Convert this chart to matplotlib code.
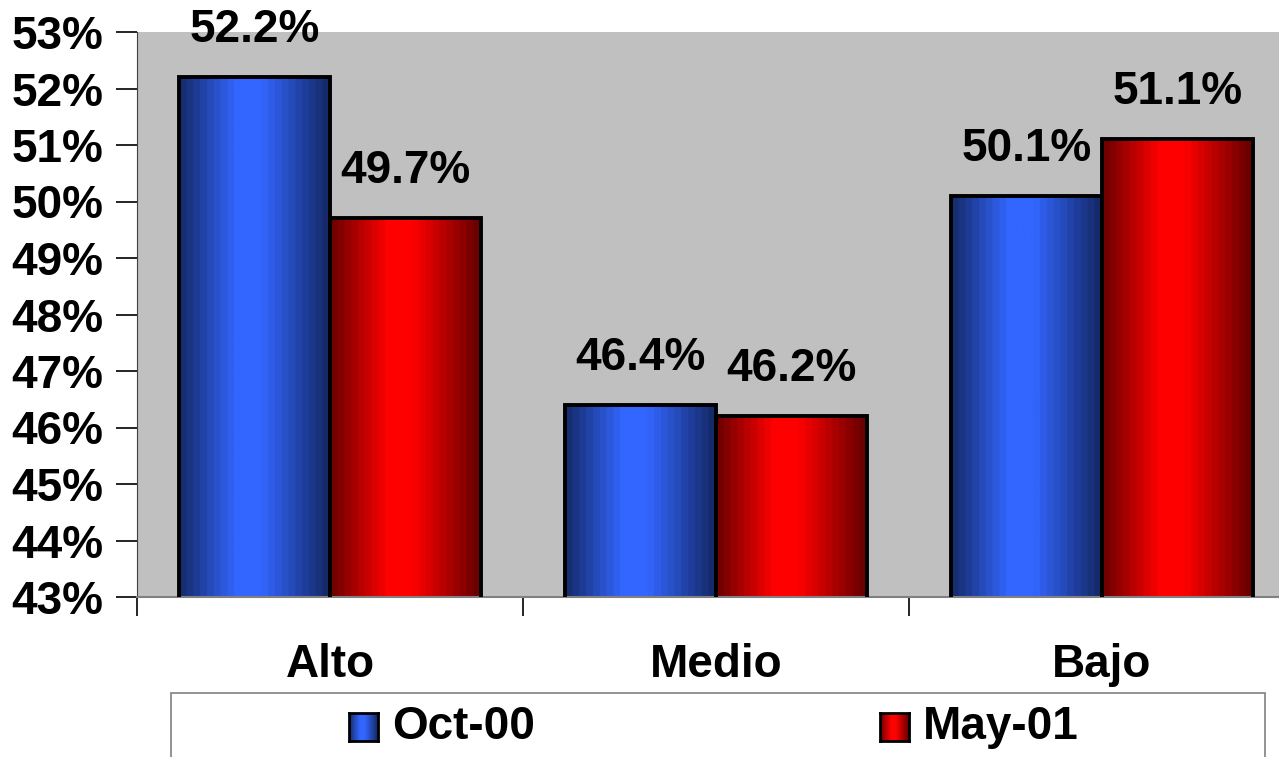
import matplotlib
matplotlib.use("Agg")
import matplotlib.pyplot as plt
import numpy as np
from matplotlib.colors import LinearSegmentedColormap
from matplotlib.patches import Rectangle

categories = ["Alto", "Medio", "Bajo"]
series = ["Oct-00", "May-01"]
oct00 = [52.2, 46.4, 50.1]
may01 = [49.7, 46.2, 51.1]
yticks = [43, 44, 45, 46, 47, 48, 49, 50, 51, 52, 53]

plt.rcParams['font.family'] = ['Liberation Sans', 'DejaVu Sans']
plt.rcParams['font.weight'] = 'bold'
FS = 33

def shade_cmap(base, n=22):
	# dark edges, bright band a bit left of centre
	t = np.linspace(0, 1, n)
	b = np.interp(t, [0, 0.38, 0.55, 1], [0.45, 1.0, 1.0, 0.42])
	cols = [tuple(np.array(base) * v) for v in b]
	return LinearSegmentedColormap.from_list("s", cols, N=n)

blue_cm = shade_cmap((0.2, 0.4, 1.0))
red_cm = shade_cmap((1.0, 0.0, 0.0))

fig = plt.figure(figsize=(12.79, 7.57), dpi=100)
ax = fig.add_axes([137/1279, 1-597/757, (1295-137)/1279, (597-32)/757])
ax.set_facecolor('#C0C0C0')

x = np.arange(len(categories)) + 0.5
w = 0.39
b1 = ax.bar(x - w/2, oct00, w, facecolor='none', edgecolor='black', linewidth=2.8, zorder=3)
b2 = ax.bar(x + w/2, may01, w, facecolor='none', edgecolor='black', linewidth=2.8, zorder=3)

grad = np.linspace(0, 1, 200).reshape(1, -1)
for bars, cm in [(b1, blue_cm), (b2, red_cm)]:
	for p in bars:
		x0 = p.get_x()
		ax.imshow(grad, cmap=cm, aspect='auto', extent=[x0, x0 + p.get_width(), 43, p.get_height()], zorder=2)

ax.bar_label(b1, labels=[f"{v:.1f}%" for v in oct00], padding=18, fontsize=FS, fontweight='bold')
ax.bar_label(b2, labels=[f"{v:.1f}%" for v in may01], padding=18, fontsize=FS, fontweight='bold')

ax.set_xlim(0, 3)
ax.set_ylim(43, 53)
ax.set_yticks(yticks)
ax.set_yticklabels([f"{v}%" for v in yticks], fontsize=FS, fontweight='bold')
ax.tick_params(axis='y', length=15, width=1.2, pad=9)

ax.set_xticks(x)
ax.set_xticklabels(categories, fontsize=FS, fontweight='bold')
ax.set_xticks([0, 1, 2, 3], minor=True)
ax.tick_params(axis='x', which='major', length=0, pad=33)
ax.tick_params(axis='x', which='minor', length=14, width=1.2)

for s in ['top', 'right']:
	ax.spines[s].set_visible(False)
ax.spines['left'].set_color('#404040')
ax.spines['bottom'].set_color('#808080')
ax.spines['bottom'].set_linewidth(1.5)

# legend box at bottom
fig.patches.append(Rectangle((171/1279, -0.02), (1265-171)/1279, 0.02 + (757-693)/757,
	transform=fig.transFigure, facecolor='none', edgecolor='#808080', linewidth=1.2, zorder=0))
leg_x = [349, 880]
for i, (name, cm) in enumerate(zip(series, [blue_cm, red_cm])):
	lx = leg_x[i]
	sq = fig.add_axes([lx/1279, (757-741)/757, 29/1279, 28/757])
	sq.imshow(grad, cmap=cm, aspect='auto')
	sq.set_xticks([])
	sq.set_yticks([])
	for s in sq.spines.values():
		s.set_linewidth(2)
	fig.text((lx + 43)/1279, 1 - 727/757, name, fontsize=FS, fontweight='bold', va='center', ha='left')

fig.savefig("out.png", dpi=100)
